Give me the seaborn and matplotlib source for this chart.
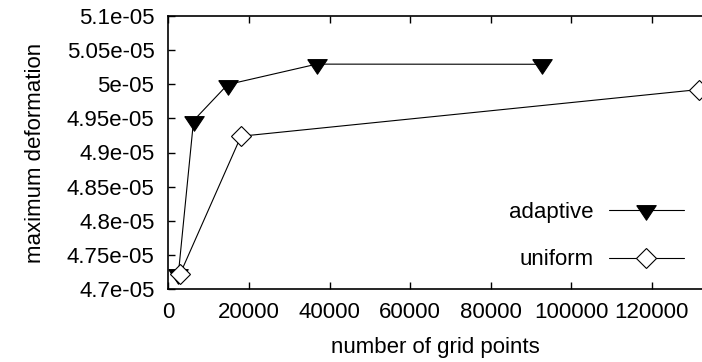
import numpy as np
import pandas as pd
import matplotlib
matplotlib.use("Agg")
import matplotlib.pyplot as plt
from matplotlib.ticker import FixedLocator, FuncFormatter
import seaborn as sns

# values
adaptive_points = [2500, 6270, 14720, 36820, 92730]
adaptive_deform = [4.7225e-05, 4.9467e-05, 4.9993e-05, 5.0292e-05, 5.0290e-05]
uniform_points = [2900, 18040, 131570]
uniform_deform = [4.7220e-05, 4.9238e-05, 4.9920e-05]

x_ticks = [0, 20000, 40000, 60000, 80000, 100000, 120000]
y_ticks = [4.7e-05, 4.75e-05, 4.8e-05, 4.85e-05, 4.9e-05, 4.95e-05, 5.0e-05, 5.05e-05, 5.1e-05]

df_adaptive = pd.DataFrame({"points": adaptive_points, "deform": adaptive_deform})
df_uniform = pd.DataFrame({"points": uniform_points, "deform": uniform_deform})

sns.set_style("ticks")
plt.rcParams["font.family"] = ["Liberation Sans", "DejaVu Sans"]
plt.rcParams["font.size"] = 16
plt.rcParams["text.color"] = "black"
plt.rcParams["axes.labelcolor"] = "black"

fig = plt.figure(figsize=(7.02, 3.62), dpi=100)
ax = fig.add_axes([168.3 / 702, 1 - 289.3 / 362, 1 - 168.3 / 702, (289.3 - 15.7) / 362])

# down-pointing triangle with its centroid on the data point
tri = [(-1, 0.5), (1, 0.5), (0, -1.0), (-1, 0.5)]

sns.lineplot(data=df_adaptive, x="points", y="deform", ax=ax, color="black",
             linewidth=0.8, marker=tri, markersize=14, markerfacecolor="black",
             markeredgecolor="black", markeredgewidth=0.8, label="adaptive",
             sort=False)
sns.lineplot(data=df_uniform, x="points", y="deform", ax=ax, color="black",
             linewidth=0.8, marker="D", markersize=10, markerfacecolor="white",
             markeredgecolor="black", markeredgewidth=0.8, label="uniform",
             sort=False)

ax.set_xlim(0, 132430)
ax.set_ylim(4.7e-05, 5.1e-05)
ax.xaxis.set_major_locator(FixedLocator(x_ticks))
ax.yaxis.set_major_locator(FixedLocator(y_ticks))
ax.xaxis.set_major_formatter(FuncFormatter(lambda v, p: "%g" % v))
ax.yaxis.set_major_formatter(FuncFormatter(lambda v, p: "%g" % v))
ax.tick_params(direction="in", length=5, width=1, top=True, right=False,
               labelsize=16, colors="black")
ax.tick_params(axis="y", pad=10)
ax.tick_params(axis="x", pad=9)
for side in ["left", "bottom", "top"]:
    ax.spines[side].set_linewidth(1.2)
    ax.spines[side].set_color("black")
ax.spines["right"].set_visible(False)

ax.set_xlabel("number of grid points", fontsize=16, labelpad=10)
ax.set_ylabel("maximum deformation", fontsize=16, labelpad=15)

ax.legend(loc="center right", bbox_to_anchor=(0.966, 0.195), frameon=False,
          markerfirst=False, handlelength=3.38, handletextpad=0.68,
          labelspacing=1.2, borderaxespad=0, borderpad=0, numpoints=1,
          fontsize=16)

fig.savefig("out.png", dpi=100)
